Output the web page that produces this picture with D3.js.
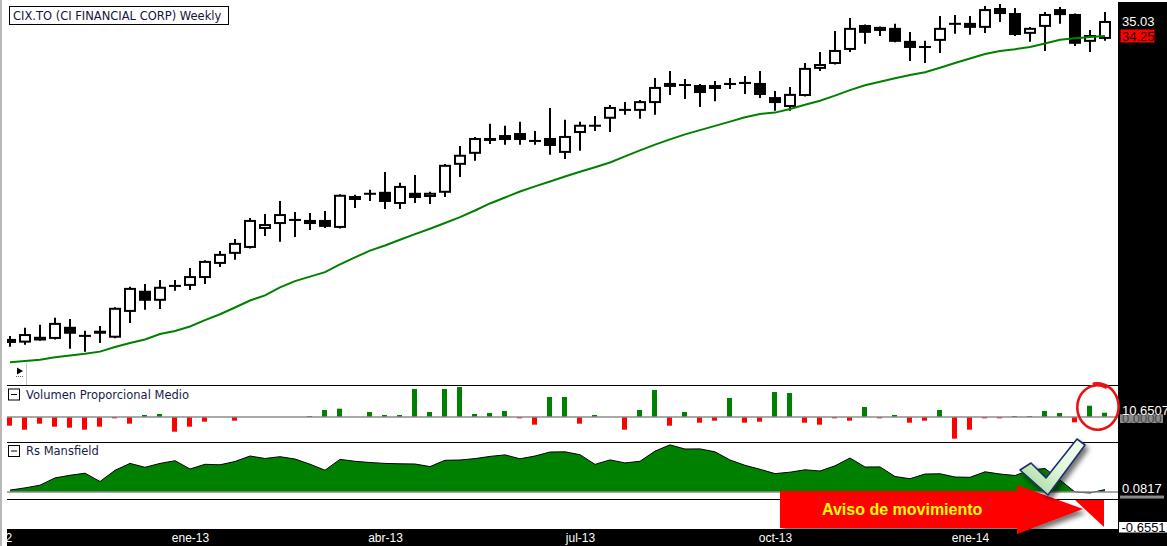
<!DOCTYPE html>
<html><head><meta charset="utf-8">
<script src="https://cdn.jsdelivr.net/npm/d3@7"></script>
<style>html,body{margin:0;padding:0;background:#fff;overflow:hidden}svg{display:block}</style>
</head><body>
<svg id="chart" width="1167" height="546"></svg>
<script>
// ---------- DATA ----------
const weekDates = ["2012-10-12","2012-10-19","2012-10-26","2012-11-02","2012-11-09","2012-11-16","2012-11-23","2012-11-30","2012-12-07","2012-12-14","2012-12-21","2012-12-28","2013-01-04","2013-01-11","2013-01-18","2013-01-25","2013-02-01","2013-02-08","2013-02-15","2013-02-22","2013-03-01","2013-03-08","2013-03-15","2013-03-22","2013-03-29","2013-04-05","2013-04-12","2013-04-19","2013-04-26","2013-05-03","2013-05-10","2013-05-17","2013-05-24","2013-05-31","2013-06-07","2013-06-14","2013-06-21","2013-06-28","2013-07-05","2013-07-12","2013-07-19","2013-07-26","2013-08-02","2013-08-09","2013-08-16","2013-08-23","2013-08-30","2013-09-06","2013-09-13","2013-09-20","2013-09-27","2013-10-04","2013-10-11","2013-10-18","2013-10-25","2013-11-01","2013-11-08","2013-11-15","2013-11-22","2013-11-29","2013-12-06","2013-12-13","2013-12-20","2013-12-27","2014-01-03","2014-01-10","2014-01-17","2014-01-24","2014-01-31","2014-02-07","2014-02-14","2014-02-21","2014-02-28","2014-03-07"];

const opens = [21.74,21.62,21.81,21.74,22.14,21.84,22.01,21.78,22.64,23.37,
23.02,23.54,23.54,23.82,24.33,24.70,24.92,25.64,25.83,26.03,
25.99,25.99,25.68,26.78,26.99,27.11,26.62,27.07,26.90,27.07,
28.23,28.70,29.26,29.52,29.61,29.26,29.39,28.74,29.61,29.89,
30.25,30.70,30.61,30.97,31.73,31.82,31.82,31.63,31.92,31.97,
31.92,31.25,30.79,31.30,32.60,32.84,33.54,34.82,34.51,34.67,
34.00,33.69,34.00,34.88,34.93,34.67,35.72,35.45,34.36,34.72,
35.66,35.40,33.95,34.10];
const highs = [21.84,22.11,22.21,22.44,22.40,22.01,22.17,22.80,23.51,23.61,
23.75,23.75,24.18,24.46,24.81,25.26,26.07,26.22,26.74,26.30,
26.26,26.34,27.01,26.99,27.19,27.93,27.48,27.80,27.11,28.27,
29.04,29.43,30.02,29.93,30.11,29.70,30.74,30.20,30.11,30.38,
30.88,31.02,31.11,32.16,32.50,32.11,31.87,32.01,32.16,32.26,
32.50,31.54,31.73,32.89,33.44,34.51,35.19,34.84,34.74,34.88,
34.46,34.00,35.29,35.34,35.29,35.82,35.93,35.72,34.72,35.50,
35.77,35.42,34.56,35.50];
const lows = [21.49,21.55,21.68,21.72,21.42,21.33,21.61,21.76,22.27,22.71,
22.74,23.37,23.40,23.61,24.22,24.48,24.90,25.37,25.15,25.33,
25.60,25.68,25.66,26.46,26.74,26.42,26.42,26.66,26.62,26.90,
27.72,28.40,29.13,29.09,29.09,29.09,28.66,28.48,28.83,29.70,
29.66,30.43,30.25,30.43,31.35,31.16,30.79,31.06,31.63,31.40,
31.21,30.61,30.61,31.28,32.50,32.82,33.44,33.85,34.25,33.93,
32.99,32.89,33.39,34.36,34.31,34.41,34.98,34.25,33.95,33.49,
34.88,33.74,33.44,34.00];
const closes = [21.61,21.90,21.69,22.27,21.91,21.84,21.91,22.78,23.47,23.02,
23.51,23.54,23.89,24.44,24.70,25.11,25.99,25.83,26.22,25.95,
25.83,25.72,26.99,26.94,27.07,26.70,27.35,26.86,27.07,28.23,
28.66,29.39,29.39,29.30,29.30,29.26,29.04,29.48,29.98,29.98,
30.79,30.61,31.06,31.73,31.92,31.82,31.44,31.82,31.82,31.87,
31.35,30.97,31.40,32.65,32.84,33.54,34.67,34.41,34.72,33.95,
33.64,33.69,34.67,34.88,34.67,35.66,35.40,34.30,34.67,35.40,
35.34,33.85,34.30,35.03];
const movingAvg = [20.99,21.03,21.07,21.15,21.21,21.26,21.33,21.48,21.61,21.72,
21.90,22.00,22.15,22.36,22.56,22.79,23.03,23.21,23.49,23.71,
23.87,24.03,24.31,24.57,24.82,25.01,25.23,25.44,25.65,25.87,
26.10,26.36,26.64,26.88,27.12,27.33,27.53,27.74,27.94,28.13,
28.33,28.59,28.85,29.10,29.33,29.55,29.74,29.93,30.12,30.32,
30.47,30.53,30.70,30.89,31.08,31.32,31.58,31.81,31.98,32.15,
32.30,32.44,32.66,32.89,33.11,33.34,33.49,33.58,33.69,33.87,
34.06,34.13,34.20,34.25];
const volumeProp = [-21.7,-31.7,-16.7,-24.2,-26.7,-31.7,-24.2,-3.3,-16.7,5.0,
7.5,-36.7,-24.2,-11.7,0,-9.2,0,0,0,0,
2.5,17.5,20.8,0,12.5,5.0,5.0,70.0,12.5,70.0,
75.0,7.5,10.0,15.0,-3.3,-19.2,50.0,50.0,-16.7,5.0,
0,-31.7,17.5,67.5,-21.7,12.5,-14.2,-9.2,47.5,-14.2,
-11.7,62.5,60.0,-14.2,-19.2,-3.3,-9.2,25.0,-3.3,5.0,
-14.2,-9.2,17.5,-54.2,-31.7,-3.3,-3.3,2.5,2.5,15.0,
10.0,-13.3,28.2,10.6507];
const rsMansfield = [0.063,0.137,0.227,0.470,0.557,0.627,0.350,0.723,0.953,0.823,
0.953,1.043,0.767,0.923,0.907,1.017,1.200,1.117,1.177,1.100,
0.927,0.727,1.087,1.023,0.983,0.953,0.940,0.933,0.847,1.057,
1.067,1.113,1.187,1.237,1.107,1.200,1.333,1.340,1.243,0.920,
1.070,0.970,1.023,1.363,1.570,1.433,1.437,1.340,1.067,0.890,
0.757,0.613,0.660,0.740,0.700,0.873,1.133,0.833,0.837,0.517,
0.443,0.600,0.607,0.500,0.490,0.673,0.600,0.550,0.733,0.783,
0.400,0.000,-0.033,0.0817];
const quarterTickDates = ["2012-10-05","2013-01-04","2013-04-05","2013-07-05","2013-10-04","2014-01-03"];
const quarterLabels = ["oct-12","ene-13","abr-13","jul-13","oct-13","ene-14"];
const rsScaleMin = -0.6551;
const titleText = "CIX.TO (CI FINANCIAL CORP) Weekly";
const volTitle = "Volumen Proporcional Medio";
const rsTitle = "Rs Mansfield";
const arrowText = "Aviso de movimiento";

// ---------- SCALES ----------
const parse = d3.utcParse("%Y-%m-%d");
const dates = weekDates.map(parse);
const tickDates = quarterTickDates.map(parse);
const x = d3.scaleUtc().domain([dates[0], dates[dates.length-1]]).range([10, 1105]);
const yP = d3.scaleLog().domain([20.75, 36.15]).range([370, 0]);
const yV = d3.scaleLinear().domain([-62.5, 77.5]).range([442, 386]);
const yR = d3.scaleLinear().domain([0, 5/3]).range([492, 442]);

const svg = d3.select("#chart");
const defs = svg.append("defs");
function clip(id, cx, cy, w, h){ defs.append("clipPath").attr("id", id).append("rect").attr("x",cx).attr("y",cy).attr("width",w).attr("height",h); }
clip("cMain", 7, 0, 1111, 385);
clip("cVol", 7, 386, 1111, 56);
clip("cRs", 7, 442, 1111, 57);
clip("cAx", 7, 529, 1111, 17);
clip("cRight", 1118, 0, 49, 546);

const shadow = defs.append("filter").attr("id","shadow").attr("x","-30%").attr("y","-30%").attr("width","170%").attr("height","180%");
shadow.append("feDropShadow").attr("dx",3).attr("dy",4).attr("stdDeviation",2.5).attr("flood-color","#000").attr("flood-opacity",0.55);
const gradChk = defs.append("linearGradient").attr("id","chk").attr("x1","1").attr("y1","0").attr("x2","0").attr("y2","1");
gradChk.append("stop").attr("offset","0").attr("stop-color","#f4fff2");
gradChk.append("stop").attr("offset","0.45").attr("stop-color","#e2f7dc");
gradChk.append("stop").attr("offset","1").attr("stop-color","#9ad494");

const FONT = "'DejaVu Sans', Verdana, sans-serif";
const NUMFONT = "'Liberation Sans', Arial, sans-serif";

svg.append("rect").attr("width",1167).attr("height",546).attr("fill","#fff");
svg.append("line").attr("x1",1).attr("x2",1).attr("y1",0).attr("y2",546).attr("stroke","#a0a0a0").attr("stroke-width",1.5);

// ---------- MAIN PRICE PANEL ----------
const bars = dates.map((d,i)=>({d, o:opens[i], h:highs[i], l:lows[i], c:closes[i]}));
const gMain = svg.append("g").attr("clip-path","url(#cMain)");
gMain.selectAll("line.wick").data(bars).join("line").attr("class","wick")
  .attr("x1",b=>x(b.d)).attr("x2",b=>x(b.d))
  .attr("y1",b=>yP(b.h)).attr("y2",b=>yP(b.l))
  .attr("stroke","#000").attr("stroke-width",2);
gMain.selectAll("rect.body").data(bars).join("rect").attr("class","body")
  .attr("x",b=>x(b.d)-5).attr("width",10)
  .attr("y",b=>{const a=yP(b.o), c=yP(b.c); const hh=Math.max(0.01,Math.abs(a-c)-2); return (a+c)/2-hh/2;})
  .attr("height",b=>Math.max(0.01,Math.abs(yP(b.o)-yP(b.c))-2))
  .attr("fill",b=>b.c>=b.o?"#fff":"#000")
  .attr("stroke","#000").attr("stroke-width",2);
gMain.append("path").datum(movingAvg)
  .attr("d", d3.line().x((v,i)=>x(dates[i])).y(v=>yP(v)))
  .attr("fill","none").attr("stroke","#008000").attr("stroke-width",2);

// title box
svg.append("rect").attr("x",9.5).attr("y",6.5).attr("width",219).attr("height",18)
  .attr("fill","#fff").attr("stroke","#000").attr("stroke-width",1);
svg.append("text").attr("x",13).attr("y",19.5).attr("font-family",FONT).attr("font-size",11.5)
  .attr("fill","#14143c").text(titleText);

// small play icon
svg.append("path").attr("d","M17,367.5 L23,371 L17,374.5 Z").attr("fill","#000");
svg.append("line").attr("x1",16).attr("x2",24).attr("y1",376.5).attr("y2",376.5).attr("stroke","#666").attr("stroke-dasharray","1,1");
svg.append("line").attr("x1",26.5).attr("x2",26.5).attr("y1",363).attr("y2",385).attr("stroke","#c8c8c8");

// ---------- VOLUME PANEL ----------
svg.append("line").attr("x1",7).attr("x2",1118).attr("y1",385.5).attr("y2",385.5).attr("stroke","#000");
const gVol = svg.append("g").attr("clip-path","url(#cVol)");
gVol.selectAll("rect").data(volumeProp).join("rect")
  .attr("x",(v,i)=>x(dates[i])-3).attr("width",5)
  .attr("y",v=>Math.min(yV(v),yV(0))).attr("height",v=>Math.abs(yV(v)-yV(0)))
  .attr("fill",v=>v>=0?"#008000":"#ff0000");
svg.append("line").attr("x1",7).attr("x2",1118).attr("y1",yV(0)).attr("y2",yV(0)).attr("stroke","#8c8c8c").attr("stroke-width",1.5);
function header(y0, label){
  svg.append("rect").attr("x",8.5).attr("y",y0+0.5).attr("width",11).attr("height",11).attr("fill","#fff").attr("stroke","#000");
  svg.append("line").attr("x1",11).attr("x2",17).attr("y1",y0+6).attr("y2",y0+6).attr("stroke","#000");
  svg.append("text").attr("x",26).attr("y",y0+10).attr("font-family",FONT).attr("font-size",11.5).attr("fill","#1a1a4a").text(label);
}
header(388.5, volTitle);

// ---------- RS PANEL ----------
svg.append("line").attr("x1",7).attr("x2",1118).attr("y1",442.5).attr("y2",442.5).attr("stroke","#000");
const gRs = svg.append("g").attr("clip-path","url(#cRs)");
gRs.append("path").datum(rsMansfield)
  .attr("d", d3.area().x((v,i)=>x(dates[i])).y0(yR(0)).y1(v=>yR(v)))
  .attr("fill","#008000");
gRs.append("path").datum(rsMansfield)
  .attr("d", d3.line().x((v,i)=>x(dates[i])).y(v=>yR(v)))
  .attr("fill","none").attr("stroke","#000").attr("stroke-width",1);
svg.append("line").attr("x1",7).attr("x2",1118).attr("y1",yR(0)).attr("y2",yR(0)).attr("stroke","#8c8c8c").attr("stroke-width",1.5);
svg.append("line").attr("x1",7).attr("x2",1118).attr("y1",499.5).attr("y2",499.5).attr("stroke","#000");
header(445, rsTitle);

// ---------- TIME AXIS ----------
svg.append("rect").attr("x",7).attr("y",529).attr("width",1160).attr("height",17).attr("fill","#000");
const gAxClip = svg.append("g").attr("clip-path","url(#cAx)");
const gAx = gAxClip.append("g").attr("transform","translate(0,533)")
  .call(d3.axisBottom(x).tickValues(tickDates).tickFormat((d,i)=>quarterLabels[i]).tickSize(0).tickPadding(0));
gAx.select(".domain").remove();
gAx.attr("font-family",NUMFONT).attr("font-size",12);
gAx.selectAll("text").attr("fill","#fff");

// ---------- RIGHT VALUE PANEL ----------
svg.append("rect").attr("x",1118).attr("y",2).attr("width",49).attr("height",544).attr("fill","#000");
const gR = svg.append("g").attr("clip-path","url(#cRight)").attr("font-family",NUMFONT).attr("font-size",13);
const lastClose = closes[closes.length-1], lastMA = movingAvg[movingAvg.length-1];
gR.append("text").attr("x",1122).attr("y",yP(lastClose)+5).attr("fill","#fff").text(lastClose.toFixed(2));
gR.append("rect").attr("x",1120.5).attr("y",yP(lastMA)-6.5).attr("width",34).attr("height",13).attr("fill","#ff0000");
gR.append("text").attr("x",1122).attr("y",yP(lastMA)+4.7).attr("fill","#1a0000").text(lastMA.toFixed(2));
// volume labels
const lastVol = volumeProp[volumeProp.length-1];
gR.append("rect").attr("x",1120).attr("y",yV(0)-3).attr("width",43).attr("height",9).attr("fill","#8a8a8a");
gR.append("text").attr("x",1122).attr("y",yV(0)+5.5).attr("fill","#444").text((0).toFixed(4));
gR.append("rect").attr("x",1118).attr("y",yV(lastVol)-11).attr("width",49).attr("height",12.5).attr("fill","#000");
gR.append("text").attr("x",1122).attr("y",yV(lastVol)+1.8).attr("fill","#fff").text(lastVol.toFixed(4));
// rs labels
const lastRs = rsMansfield[rsMansfield.length-1];
gR.append("rect").attr("x",1120).attr("y",yR(lastRs)+6).attr("width",44).attr("height",3).attr("fill","#8a8a8a");
gR.append("text").attr("x",1122).attr("y",yR(lastRs)+3.8).attr("fill","#fff").text(lastRs.toFixed(4));
gR.append("rect").attr("x",1119).attr("y",522).attr("width",48).attr("height",10.5).attr("fill","#fff");
gR.append("text").attr("x",1121.5).attr("y",531.5).attr("fill","#000").text(rsScaleMin.toFixed(4));

// ---------- ANNOTATIONS ----------
const ax0 = 780, axTipX = 1083, axHeadX = 1017;
svg.append("path")
  .attr("d",`M${ax0},491 L${axHeadX},491 L${axHeadX},485 L${axTipX},509 L${axHeadX},534 L${axHeadX},528 L${ax0},528 Z`)
  .attr("fill","#ff0000").attr("filter","url(#shadow)");
svg.append("path").attr("d","M1075,500 L1104,500 L1104,527 Z").attr("fill","#ff0000");
svg.append("text").attr("x",822).attr("y",514.5).attr("font-family",NUMFONT).attr("font-weight","bold")
  .attr("font-size",16).attr("fill","#ffff00").text(arrowText);

// check mark
svg.append("path")
  .attr("d","M1020,470 L1031,463 L1046,478 L1077,439 L1085,445 L1048,495 Z")
  .attr("fill","url(#chk)").attr("stroke","#1f2f6a").attr("stroke-width",1.6)
  .attr("stroke-linejoin","round").attr("filter","url(#shadow)");

// red hand-drawn circle around the last volume bars
const cc = [(x(dates[72])+x(dates[73]))/2, yV(0)-10];
const loop = d3.range(0, 1.0001, 1/90).map(t=>{
  const a = (-100 + 395*t) * Math.PI/180, f = 1.08 - 0.1*t;
  return [cc[0] + 20*f*Math.cos(a), cc[1] + 22*f*Math.sin(a)];
});
svg.append("path").attr("d", d3.line().curve(d3.curveBasis)(loop))
  .attr("fill","none").attr("stroke","#e81414").attr("stroke-width",2.6).attr("stroke-linecap","round");
</script>
</body></html>
